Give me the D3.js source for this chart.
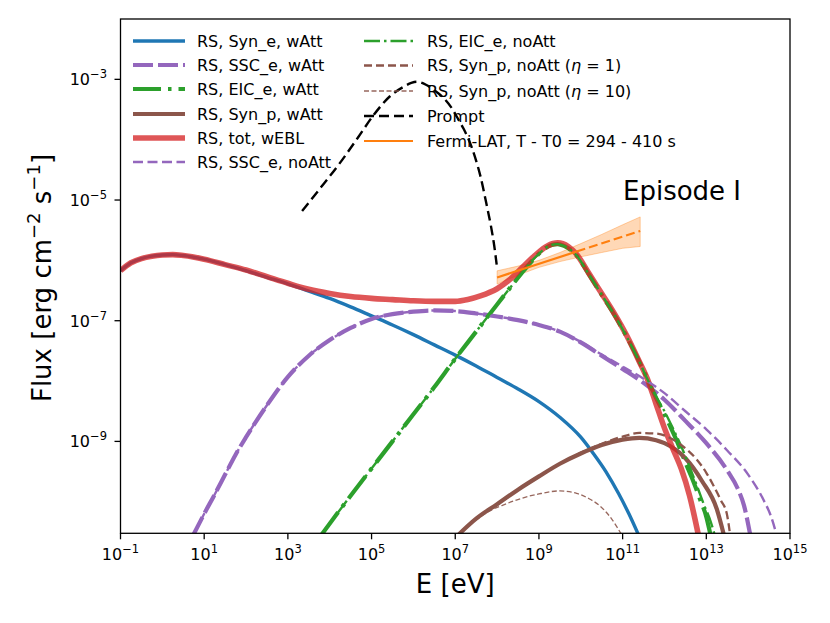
<!DOCTYPE html>
<html><head><meta charset="utf-8">
<script src="https://cdn.jsdelivr.net/npm/d3@7"></script>
<style>body{margin:0;background:#fff} svg{display:block} text{font-family:"DejaVu Sans",sans-serif;fill:#000}</style>
</head><body><svg id="c" width="830" height="623"></svg>
<script>
// ---- data: [log10(E/eV), log10(Flux)] ----
const synE_wAtt = [[-1,-6.17],[-0.75,-6.04],[-0.5,-5.97],[-0.25,-5.93],[0,-5.91],[0.25,-5.905],[0.5,-5.92],[1,-5.98],[1.5,-6.07],[2,-6.17],[2.5,-6.28],[3,-6.39],[3.5,-6.51],[4,-6.63],[4.5,-6.77],[5,-6.92],[5.5,-7.07],[6,-7.23],[6.5,-7.4],[7,-7.57],[7.5,-7.75],[8,-7.94],[8.5,-8.13],[9,-8.34],[9.5,-8.6],[10,-8.93],[10.3,-9.2],[10.6,-9.5],[10.9,-9.86],[11.15,-10.2],[11.38,-10.55]];
const sscE_wAtt = [[0.74,-10.55],[1,-10.2],[1.25,-9.88],[1.5,-9.55],[1.75,-9.22],[2,-8.93],[2.5,-8.4],[3,-7.93],[3.5,-7.58],[4,-7.32],[4.5,-7.12],[5,-6.97],[5.5,-6.89],[6,-6.85],[6.5,-6.83],[7,-6.84],[7.5,-6.88],[8,-6.93],[8.5,-6.99],[9,-7.07],[9.5,-7.18],[10,-7.36],[10.5,-7.58],[11,-7.8],[11.5,-8.03],[12,-8.31],[12.5,-8.66],[13,-9.03],[13.5,-9.48],[13.75,-9.78],[13.9,-10.06],[14.05,-10.55]];
const eicE_wAtt = [[3.8,-10.55],[4.5,-9.9],[5,-9.45],[5.5,-9.0],[6,-8.55],[6.5,-8.1],[7,-7.63],[7.5,-7.18],[8,-6.73],[8.35,-6.42],[8.6,-6.2],[8.9,-5.96],[9.15,-5.8],[9.3,-5.745],[9.45,-5.73],[9.6,-5.76],[9.8,-5.85],[9.9,-5.92],[10.2,-6.24],[10.5,-6.57],[10.8,-6.9],[11.1,-7.27],[11.4,-7.68],[11.6,-7.98],[11.8,-8.28],[12.0,-8.55],[12.13,-8.74],[12.3,-9.0],[12.53,-9.4],[12.7,-9.68],[12.85,-9.96],[13.0,-10.25],[13.1,-10.55]];
const synP_wAtt = [[7.07,-10.55],[7.5,-10.28],[8,-10.04],[8.5,-9.8],[9,-9.58],[9.5,-9.37],[10,-9.2],[10.5,-9.06],[11,-8.97],[11.4,-8.94],[11.8,-8.98],[12.0,-9.03],[12.5,-9.28],[12.9,-9.66],[13.25,-10.12],[13.42,-10.55]];
const tot_wEBL = [[-1,-6.17],[-0.75,-6.04],[-0.5,-5.97],[-0.25,-5.93],[0,-5.91],[0.25,-5.905],[0.5,-5.92],[1,-5.98],[1.5,-6.07],[2,-6.16],[2.5,-6.27],[3,-6.38],[3.5,-6.48],[4,-6.55],[4.5,-6.6],[5,-6.63],[5.5,-6.65],[6,-6.67],[6.5,-6.68],[7,-6.68],[7.3,-6.65],[7.6,-6.59],[8,-6.47],[8.3,-6.32],[8.6,-6.12],[8.9,-5.92],[9.2,-5.76],[9.45,-5.71],[9.7,-5.77],[9.9,-5.9],[10.2,-6.22],[10.5,-6.55],[10.8,-6.88],[11.1,-7.25],[11.4,-7.68],[11.6,-7.98],[11.8,-8.38],[12.0,-8.78],[12.2,-9.12],[12.4,-9.45],[12.6,-9.9],[12.81,-10.55]];
const sscE_noAtt = [[0.74,-10.55],[1,-10.2],[1.25,-9.88],[1.5,-9.55],[1.75,-9.22],[2,-8.93],[2.5,-8.4],[3,-7.93],[3.5,-7.58],[4,-7.32],[4.5,-7.12],[5,-6.97],[5.5,-6.89],[6,-6.85],[6.5,-6.83],[7,-6.84],[7.5,-6.88],[8,-6.93],[8.5,-6.99],[9,-7.07],[9.5,-7.18],[10,-7.35],[10.5,-7.56],[11,-7.76],[11.5,-7.96],[12,-8.2],[12.5,-8.5],[13,-8.8],[13.5,-9.15],[14,-9.55],[14.36,-9.96],[14.55,-10.25],[14.68,-10.55]];
const eicE_noAtt = [[3.8,-10.55],[4.5,-9.9],[5,-9.45],[5.5,-9.0],[6,-8.55],[6.5,-8.1],[7,-7.63],[7.5,-7.18],[8,-6.73],[8.35,-6.42],[8.6,-6.2],[8.9,-5.96],[9.15,-5.8],[9.3,-5.745],[9.45,-5.73],[9.6,-5.76],[9.8,-5.85],[9.9,-5.92],[10.2,-6.24],[10.5,-6.57],[10.8,-6.9],[11.1,-7.27],[11.4,-7.68],[11.6,-7.98],[11.8,-8.26],[12.0,-8.5],[12.2,-8.78],[12.4,-9.08],[12.6,-9.42],[12.8,-9.78],[12.95,-10.06],[13.1,-10.32],[13.2,-10.55]];
const synP_eta1 = [[7.07,-10.55],[7.5,-10.28],[8,-10.04],[8.5,-9.8],[9,-9.58],[9.5,-9.37],[10,-9.19],[10.5,-9.04],[11,-8.92],[11.4,-8.86],[11.8,-8.87],[12.1,-8.93],[12.4,-9.06],[12.77,-9.3],[13.0,-9.52],[13.17,-9.73],[13.35,-9.98],[13.49,-10.2],[13.57,-10.55]];
const synP_eta10 = [[7.07,-10.55],[7.5,-10.3],[7.8,-10.16],[8.2,-10.04],[8.6,-9.94],[9.0,-9.87],[9.5,-9.82],[9.9,-9.86],[10.2,-9.95],[10.46,-10.07],[10.7,-10.25],[10.98,-10.55]];
const prompt = [[3.34,-5.18],[3.79,-4.79],[4.25,-4.38],[4.68,-3.96],[5.04,-3.6],[5.44,-3.28],[5.8,-3.11],[5.95,-3.06],[6.08,-3.04],[6.3,-3.09],[6.5,-3.18],[6.71,-3.3],[6.9,-3.46],[7.07,-3.66],[7.2,-3.82],[7.39,-4.12],[7.5,-4.35],[7.6,-4.6],[7.75,-5.08],[7.85,-5.42],[7.93,-5.75],[7.99,-6.07]];
const fermiE  = [8.0, 8.5, 9.0, 9.5, 10.0, 10.5, 11.0, 11.42];
const fermiLo = [-6.393, -6.245, -6.116, -6.02, -5.942, -5.87, -5.80, -5.77];
const fermiHi = [-6.173, -6.095, -6.000, -5.87, -5.722, -5.57, -5.41, -5.28];
const fermiFit = [[8.0,-6.283],[9.9,-5.854]];
const fermiExt = [[9.9,-5.854],[11.42,-5.512]];
const xTickExp = [-1,1,3,5,7,9,11,13,15];
const yTickExp = [-3,-5,-7,-9];
const legendLabels = ["RS, Syn_e, wAtt","RS, SSC_e, wAtt","RS, EIC_e, wAtt","RS, Syn_p, wAtt","RS, tot, wEBL","RS, SSC_e, noAtt","RS, EIC_e, noAtt","RS, Syn_p, noAtt (η = 1)","RS, Syn_p, noAtt (η = 10)","Prompt","Fermi-LAT, T - T0 = 294 - 410 s"];

// ---- drawing ----
const svg = d3.select("#c");
const L=120.5, R=790, T=19, B=533.3;
const x = d3.scaleLog().domain([1e-1,1e15]).range([L,R]);
const y = d3.scaleLog().domain([3e-11,1e-2]).range([B,T]);
const line = d3.line().x(d=>x(10**d[0])).y(d=>y(10**d[1])).curve(d3.curveMonotoneX);

svg.append("clipPath").attr("id","clip").append("rect").attr("x",L).attr("y",T).attr("width",R-L).attr("height",B-T);
const g = svg.append("g").attr("clip-path","url(#clip)");

const C = {blue:"#1f77b4",orange:"#ff7f0e",green:"#2ca02c",red:"#d62728",purple:"#9467bd",brown:"#8c564b"};
const series = [
  {d:synE_wAtt, c:C.blue, w:3.4, dash:null, op:1},
  {d:sscE_wAtt, c:C.purple, w:4.2, dash:"20,5", op:1},
  {d:eicE_wAtt, c:C.green, w:4.2, dash:"28,7,3.5,7", op:1},
  {d:synP_wAtt, c:C.brown, w:4.2, dash:null, op:1},
  {d:tot_wEBL, c:C.red, w:5.6, dash:null, op:0.78},
  {d:sscE_noAtt, c:C.purple, w:2.4, dash:"10,4.5", op:1},
  {d:eicE_noAtt, c:C.green, w:2.4, dash:"16,4,2.5,4", op:1},
  {d:synP_eta1, c:C.brown, w:2.3, dash:"8,4", op:1},
  {d:synP_eta10, c:C.brown, w:1.3, dash:"5,2.5", op:0.9},
  {d:prompt, c:"#000", w:2.4, dash:"10,5", op:1},
];

// Fermi band (drawn first so curves overlay)
const band = fermiE.map((e,i)=>({e, lo:fermiLo[i], hi:fermiHi[i]}));
g.append("path").datum(band)
  .attr("d", d3.area().x(d=>x(10**d.e)).y0(d=>y(10**d.lo)).y1(d=>y(10**d.hi)))
  .attr("fill",C.orange).attr("fill-opacity",0.3).attr("stroke",C.orange).attr("stroke-opacity",0.35).attr("stroke-width",1);

series.forEach(s=>{
  g.append("path").datum(s.d).attr("d",line).attr("fill","none")
   .attr("stroke",s.c).attr("stroke-width",s.w).attr("stroke-opacity",s.op)
   .attr("stroke-dasharray",s.dash).attr("stroke-linejoin","round");
});
g.append("path").datum(fermiFit).attr("d",line).attr("fill","none").attr("stroke",C.orange).attr("stroke-width",2.2);
g.append("path").datum(fermiExt).attr("d",line).attr("fill","none").attr("stroke",C.orange).attr("stroke-width",2.2).attr("stroke-dasharray","9,4");

// frame
svg.append("rect").attr("x",L).attr("y",T).attr("width",R-L).attr("height",B-T)
  .attr("fill","none").attr("stroke","#000").attr("stroke-width",1.3);

// ticks
const minus = "\u2212";
xTickExp.forEach(e=>{
  const px = x(10**e);
  svg.append("line").attr("x1",px).attr("x2",px).attr("y1",B).attr("y2",B+6).attr("stroke","#000").attr("stroke-width",1.3);
  const t = svg.append("text").attr("x",px).attr("y",560).attr("text-anchor","middle").attr("font-size",16);
  t.append("tspan").text("10");
  t.append("tspan").attr("font-size",11.5).attr("dy",-7).text(e<0? minus+(-e) : String(e));
});
yTickExp.forEach(e=>{
  const py = y(10**e);
  svg.append("line").attr("x1",L-6).attr("x2",L).attr("y1",py).attr("y2",py).attr("stroke","#000").attr("stroke-width",1.3);
  const t = svg.append("text").attr("x",107).attr("y",py+6).attr("text-anchor","end").attr("font-size",16);
  t.append("tspan").text("10");
  t.append("tspan").attr("font-size",11.5).attr("dy",-7).text(minus+(-e));
});

// axis labels
svg.append("text").attr("x",(L+R)/2).attr("y",593).attr("text-anchor","middle").attr("font-size",26).text("E [eV]");
const yl = svg.append("text").attr("transform","translate(51,278) rotate(-90)").attr("text-anchor","middle").attr("font-size",26);
yl.append("tspan").text("Flux [erg cm");
yl.append("tspan").attr("font-size",18).attr("dy",-11).text(minus+"2");
yl.append("tspan").attr("dy",11).text(" s");
yl.append("tspan").attr("font-size",18).attr("dy",-11).text(minus+"1");
yl.append("tspan").attr("dy",11).text("]");

svg.append("text").attr("x",623).attr("y",200).attr("font-size",26).text("Episode I");

// legend
const legStyles = series.concat([{c:C.orange, w:2.2, dash:null, op:1}]);
const col1Y = [41,65,89,114,138,162], col2Y = [41,65.5,91,116,141];
legendLabels.forEach((lab,i)=>{
  const col = i<6?0:1, yy = col===0? col1Y[i] : col2Y[i-6];
  const x1 = col===0?133:364, x2 = col===0?185:413, tx = col===0?197:427;
  const s = legStyles[i];
  svg.append("line").attr("x1",x1).attr("x2",x2).attr("y1",yy).attr("y2",yy)
    .attr("stroke",s.c).attr("stroke-width",s.w).attr("stroke-opacity",s.op).attr("stroke-dasharray",s.dash);
  const t = svg.append("text").attr("x",tx).attr("y",yy+5.8).attr("font-size",16);
  const m = lab.match(/^(.*\()η( = .*)$/);
  if(m){ t.append("tspan").text(m[1]); t.append("tspan").attr("font-style","italic").text("η"); t.append("tspan").text(m[2]); }
  else t.text(lab);
});
</script></body></html>
